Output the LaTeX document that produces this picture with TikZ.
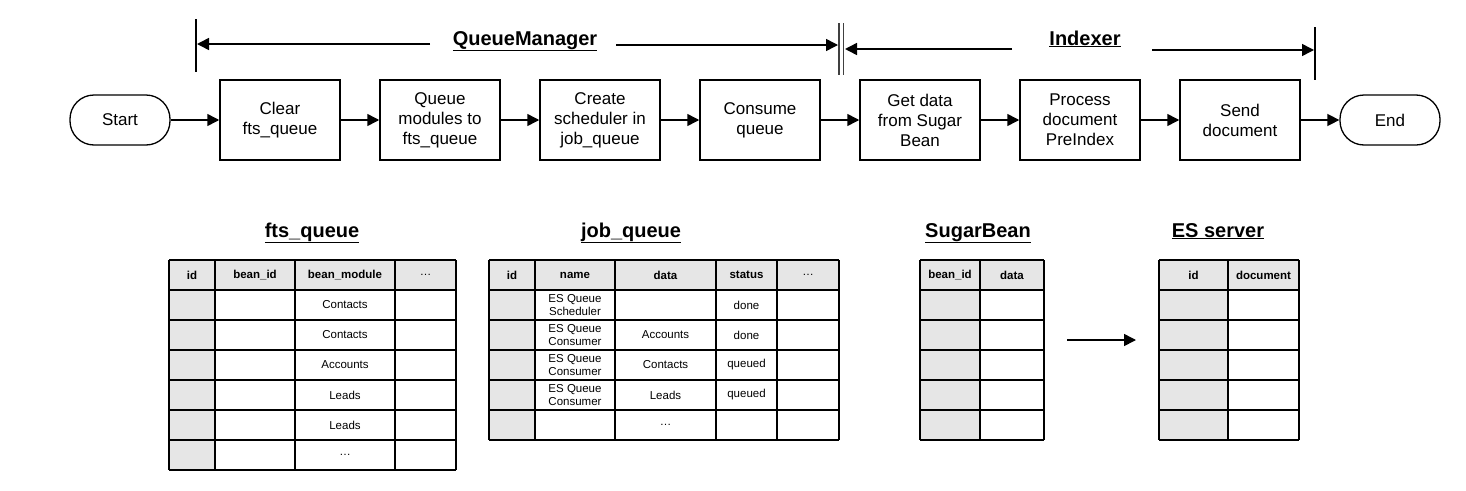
\documentclass[tikz,border=0pt]{standalone}
\usepackage{fontspec}
\setmainfont{Liberation Sans}
\usetikzlibrary{arrows.meta}
\definecolor{cellgray}{HTML}{E6E6E6}

\begin{document}
\begin{tikzpicture}[x=1pt,y=-1pt,
	box/.style={draw,line width=1.5pt,minimum width=120pt,minimum height=80pt,align=center,inner sep=2pt,font=\fontsize{17}{20}\selectfont},
	term/.style={draw,line width=1.3pt,rounded corners=24pt,minimum width=100pt,minimum height=50pt,font=\fontsize{17}{20}\selectfont},
	flow/.style={line width=1.5pt,-{Triangle[length=12pt,width=12pt]}},
	grid/.style={line width=1.8pt},
	title/.style={font=\fontsize{20}{24}\selectfont\bfseries,anchor=base},
	cell/.style={font=\fontsize{11.5}{13}\selectfont,align=center},
	head/.style={font=\fontsize{11.5}{13}\selectfont\bfseries}]
	
	\useasboundingbox (0,0) rectangle (1466,490);
	
	% process line
	\node[term] (start) at (120,120) {Start};
	\node[box] (clear) at (280,120) {Clear\\fts\_queue};
	\node[box] (queue) at (440,120) {Queue\\modules to\\fts\_queue};
	\node[box] (create) at (600,120) {Create\\scheduler in\\job\_queue};
	\node[box] (consume) at (760,120) {Consume\\queue};
	\node[box] (getdata) at (920,120) {Get data\\from Sugar\\Bean};
	\node[box] (process) at (1080,120) {Process\\document\\PreIndex};
	\node[box] (send) at (1240,120) {Send\\document};
	\node[term] (stop) at (1390,120) {End};
	
	\draw[flow] (start) -- (clear);
	\draw[flow] (clear) -- (queue);
	\draw[flow] (queue) -- (create);
	\draw[flow] (create) -- (consume);
	\draw[flow] (consume) -- (getdata);
	\draw[flow] (getdata) -- (process);
	\draw[flow] (process) -- (send);
	\draw[flow] (send) -- (stop);
	
	% brackets
	\draw[line width=1.5pt] (196,19) -- (196,72);
	\draw[line width=1.2pt,black!75] (839,23) -- (839,75) (843.5,23) -- (843.5,75);
	\draw[line width=1.5pt] (1315,27) -- (1315,80);
	
	\node[title] (qm) at (525,45) {\underline{QueueManager}};
	\node[title] (ix) at (1085,45) {\underline{Indexer}};
	
	\coordinate (qm-a) at (430,44);
	\coordinate (qm-b) at (197,44);
	\coordinate (qm-c) at (616,45);
	\coordinate (qm-d) at (838,45);
	\coordinate (ix-a) at (1012,49);
	\coordinate (ix-b) at (845,49);
	\coordinate (ix-c) at (1152,50);
	\coordinate (ix-d) at (1314,50);
	
	\draw[flow] (qm-a) -- (qm-b);
	\draw[flow] (qm-c) -- (qm-d);
	\draw[flow] (ix-a) -- (ix-b);
	\draw[flow] (ix-c) -- (ix-d);
	
	% fts_queue
	\node[title] (fq) at (312,237) {\underline{fts\_queue}};
	\fill[cellgray] (169,260) rectangle (456,290) (169,290) rectangle (215,470);
	\foreach \y in {260,290,...,470}
		\draw[grid] (169,\y) -- (456,\y);
	\foreach \x in {169,215,295,395,456}
		\draw[grid] (\x,260) -- (\x,470);
	\foreach \x/\t [count=\i] in {192/id,255/bean\_id,345/bean\_module}
		\node[head] (fq-h\i) at (\x,275) {\t};
	\node[cell] (fq-h4) at (425.5,275) {\dots};
	\foreach \y/\t [count=\i] in {305/Contacts,335/Contacts,365/Accounts,395/Leads,425/Leads}
		\node[cell] (fq-m\i) at (345,\y) {\t};
	\node[cell] (fq-m6) at (345,455) {\dots};
	
	% job_queue
	\node[title] (jq) at (631,237) {\underline{job\_queue}};
	\fill[cellgray] (489,260) rectangle (839,290) (489,290) rectangle (535,440);
	\foreach \y in {260,290,...,440}
		\draw[grid] (489,\y) -- (839,\y);
	\foreach \x in {489,535,615,716,777,839}
		\draw[grid] (\x,260) -- (\x,440);
	\foreach \x/\t [count=\i] in {512/id,575/name,665.5/data,746.5/status}
		\node[head] (jq-h\i) at (\x,275) {\t};
	\node[cell] (jq-h5) at (808,275) {\dots};
	\foreach \y/\n/\d/\s [count=\i] in {305/Scheduler/{}/done,335/Consumer/Accounts/done,365/Consumer/Contacts/queued,395/Consumer/Leads/queued}{
		\node[cell] (jq-n\i) at (575,\y) {ES Queue\\\n};
		\node[cell] (jq-d\i) at (665.5,\y) {\d};
		\node[cell] (jq-s\i) at (746.5,\y) {\s};
	}
	\node[cell] (jq-d5) at (665.5,425) {\dots};
	
	% SugarBean
	\node[title] (sb) at (978,237) {\underline{SugarBean}};
	\fill[cellgray] (920,260) rectangle (1044,290) (920,290) rectangle (980,440);
	\foreach \y in {260,290,...,440}
		\draw[grid] (920,\y) -- (1044,\y);
	\foreach \x in {920,980,1044}
		\draw[grid] (\x,260) -- (\x,440);
	\node[head] (sb-h1) at (950,275) {bean\_id};
	\node[head] (sb-h2) at (1012,275) {data};
	
	% ES server
	\node[title] (es) at (1218,237) {\underline{ES server}};
	\fill[cellgray] (1159,260) rectangle (1299,290) (1159,290) rectangle (1228,440);
	\foreach \y in {260,290,...,440}
		\draw[grid] (1159,\y) -- (1299,\y);
	\foreach \x in {1159,1228,1299}
		\draw[grid] (\x,260) -- (\x,440);
	\node[head] (es-h1) at (1193.5,275) {id};
	\node[head] (es-h2) at (1263.5,275) {document};
	
	\coordinate (sb-out) at (1067,340);
	\coordinate (es-in) at (1136,340);
	\draw[flow] (sb-out) -- (es-in);
	
\end{tikzpicture}
\end{document}
